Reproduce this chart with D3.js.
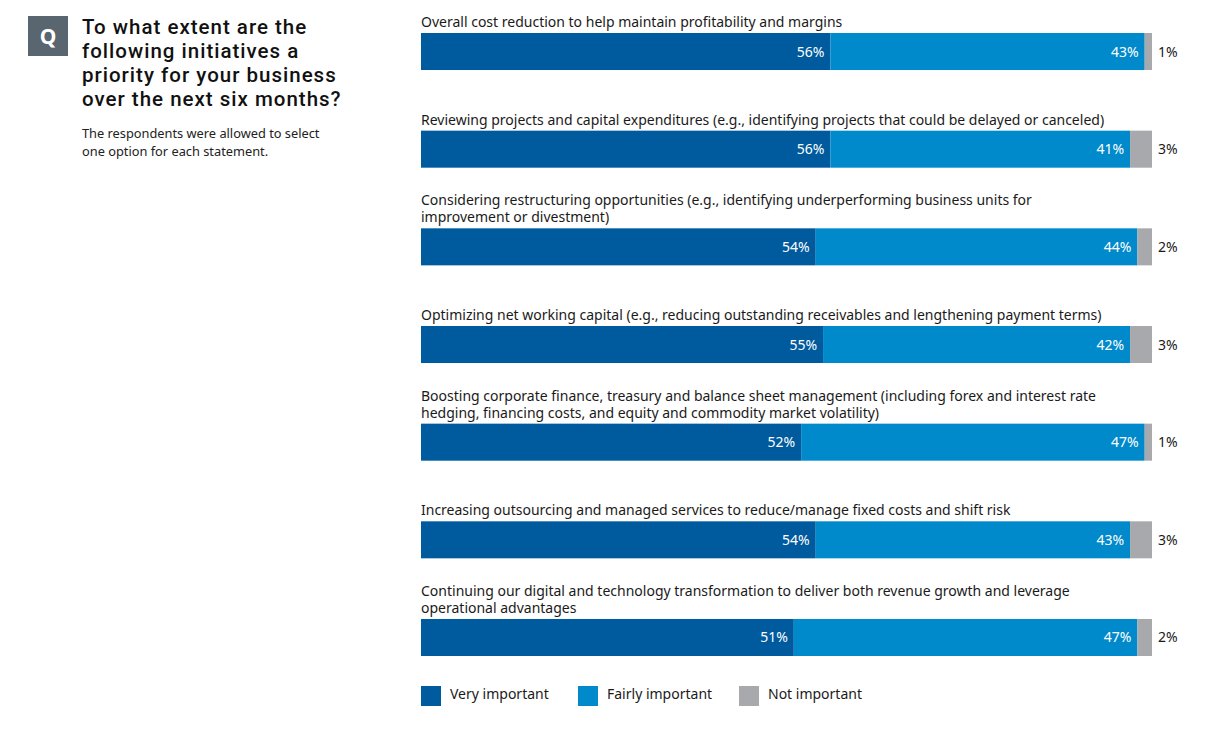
<!DOCTYPE html>
<html>
<head>
<meta charset="utf-8">
<script src="https://cdn.jsdelivr.net/npm/d3@7"></script>
<style>
  body { margin: 0; background: #fff; }
  svg { display: block; font-family: 'Noto Sans', 'Open Sans', sans-serif; }
</style>
</head>
<body>
<svg id="chart" width="1225" height="751"></svg>
<script>
// survey statements (pre-wrapped as in the report)
const statements = [
  ['Overall cost reduction to help maintain profitability and margins'],
  ['Reviewing projects and capital expenditures (e.g., identifying projects that could be delayed or canceled)'],
  ['Considering restructuring opportunities (e.g., identifying underperforming business units for', 'improvement or divestment)'],
  ['Optimizing net working capital (e.g., reducing outstanding receivables and lengthening payment terms)'],
  ['Boosting corporate finance, treasury and balance sheet management (including forex and interest rate', 'hedging, financing costs, and equity and commodity market volatility)'],
  ['Increasing outsourcing and managed services to reduce/manage fixed costs and shift risk'],
  ['Continuing our digital and technology transformation to deliver both revenue growth and leverage', 'operational advantages']
]
const veryImportant = [56, 56, 54, 55, 52, 54, 51]
const fairlyImportant = [43, 41, 44, 42, 47, 43, 47]
const notImportant = [1, 3, 2, 3, 1, 3, 2]
const seriesNames = ['Very important', 'Fairly important', 'Not important']
const colors = ['#005a9e', '#0089cb', '#a7a9ac']

const svg = d3.select('#chart')

// question header
svg.append('rect').attr('x', 28).attr('y', 16).attr('width', 40).attr('height', 40).attr('fill', '#59656f')
svg.append('text').attr('x', 48).attr('y', 44).attr('text-anchor', 'middle')
  .attr('fill', '#fff').attr('font-size', 21).attr('font-weight', 'bold').text('Q')

const title = ['To what extent are the', 'following initiatives a', 'priority for your business', 'over the next six months?']
svg.append('g').selectAll('text').data(title).join('text')
  .attr('x', 82).attr('y', (d, i) => 34 + i * 24)
  .attr('font-family', 'Roboto, sans-serif')
  .attr('font-size', 20.5).attr('font-weight', 500).attr('fill', '#111')
  .attr('letter-spacing', 1)
  .text(d => d)
const sub = ['The respondents were allowed to select', 'one option for each statement.']
svg.append('g').selectAll('text').data(sub).join('text')
  .attr('x', 82).attr('y', (d, i) => 138 + i * 18)
  .attr('font-size', 12.8).attr('fill', '#222')
  .text(d => d)

// scales
const x = d3.scaleLinear().domain([0, 100]).range([421, 1152])
const y = d3.scaleBand().domain(d3.range(statements.length)).range([33, 656]).paddingInner(0.621).paddingOuter(0)

const rows = statements.map((s, i) => {
  const vals = [veryImportant[i], fairlyImportant[i], notImportant[i]]
  let acc = 0
  const segs = vals.map((v, k) => { const s0 = acc; acc += v; return { k, v, x0: s0, x1: acc } })
  return { i, lines: s, segs }
})

const g = svg.append('g')
const row = g.selectAll('g.row').data(rows).join('g').attr('class', 'row')

// statement labels above each bar
row.each(function (d) {
  const n = d.lines.length
  d3.select(this).selectAll('text.lbl').data(d.lines).join('text')
    .attr('class', 'lbl')
    .attr('x', 421)
    .attr('y', (l, j) => y(d.i) - 6 - (n - 1 - j) * 17)
    .attr('font-size', 14).attr('fill', '#1a1a1a')
    .text(l => l)
})

row.selectAll('rect').data(d => d.segs.map(s => ({ ...s, i: d.i }))).join('rect')
  .attr('x', s => x(s.x0))
  .attr('width', s => x(s.x1) - x(s.x0))
  .attr('y', s => y(s.i))
  .attr('height', y.bandwidth())
  .attr('fill', s => colors[s.k])

// percentage labels: inside for blue segments, outside for grey
row.selectAll('text.val').data(d => d.segs.map(s => ({ ...s, i: d.i }))).join('text')
  .attr('class', 'val')
  .attr('x', s => s.k < 2 ? x(s.x1) - 6 : x(100) + 6)
  .attr('y', s => y(s.i) + y.bandwidth() / 2 + 5)
  .attr('text-anchor', s => s.k < 2 ? 'end' : 'start')
  .attr('font-size', 14)
  .attr('fill', s => s.k < 2 ? '#fff' : '#1a1a1a')
  .text(s => s.v + '%')

// legend
const legendX = [421, 578, 739]
const legend = svg.append('g').selectAll('g').data(seriesNames).join('g')
  .attr('transform', (d, i) => `translate(${legendX[i]},686)`)
legend.append('rect').attr('width', 20).attr('height', 20).attr('fill', (d, i) => colors[i])
legend.append('text').attr('x', 29).attr('y', 13).attr('font-size', 14).attr('fill', '#1a1a1a').text(d => d)
</script>
</body>
</html>
